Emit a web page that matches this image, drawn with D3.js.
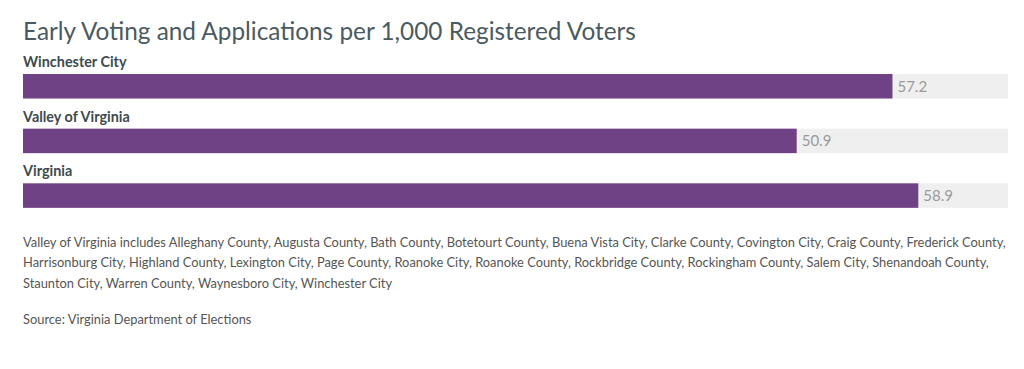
<!DOCTYPE html>
<html>
<head>
<meta charset="utf-8">
<script src="https://cdn.jsdelivr.net/npm/d3@7"></script>
<style>
  html, body { margin: 0; padding: 0; background: #fff; }
  svg { display: block; }
  text { font-family: Lato, "Open Sans", sans-serif; }
</style>
</head>
<body>
<svg id="chart" width="1024" height="369"></svg>
<script>
const title = "Early Voting and Applications per 1,000 Registered Voters";
const categories = ["Winchester City", "Valley of Virginia", "Virginia"];
const values = [57.2, 50.9, 58.9];
const valueLabels = ["57.2", "50.9", "58.9"];
const noteLines = [
  "Valley of Virginia includes Alleghany County, Augusta County, Bath County, Botetourt County, Buena Vista City, Clarke County, Covington City, Craig County, Frederick County,",
  "Harrisonburg City, Highland County, Lexington City, Page County, Roanoke City, Roanoke County, Rockbridge County, Rockingham County, Salem City, Shenandoah County,",
  "Staunton City, Warren County, Waynesboro City, Winchester City"
];
const source = "Source: Virginia Department of Elections";

const svg = d3.select("#chart");
const left = 23, right = 1008;

svg.append("text")
  .attr("x", left).attr("y", 40)
  .attr("font-size", 24.35).attr("fill", "#4b5a60")
  .text(title);

const x = d3.scaleLinear().domain([0, 64.8]).range([left, right]);
const y = d3.scaleBand().domain(categories).range([56, 220]).paddingInner(0).paddingOuter(0);

const rows = svg.append("g").selectAll("g").data(categories).join("g")
  .attr("transform", d => `translate(0,${y(d)})`);

rows.append("text")
  .attr("x", left).attr("y", 11)
  .attr("font-size", 14.4).attr("font-weight", 700).attr("fill", "#3d4a4f")
  .text(d => d);

rows.append("rect")
  .attr("x", x(0)).attr("y", 18)
  .attr("width", x(64.8) - x(0)).attr("height", 24.5)
  .attr("fill", "#efefef");

rows.append("rect")
  .attr("x", x(0)).attr("y", 18)
  .attr("width", (d, i) => x(values[i]) - x(0)).attr("height", 24.5)
  .attr("fill", "#6f4285");

rows.append("text")
  .attr("x", (d, i) => x(values[i]) + 5).attr("y", 35.5)
  .attr("font-size", 15).attr("fill", "#9a9a9a")
  .text((d, i) => valueLabels[i]);

svg.append("g").selectAll("text").data(noteLines).join("text")
  .attr("x", left).attr("y", (d, i) => 247 + i * 20.3)
  .attr("font-size", 12.87).attr("fill", "#555")
  .text(d => d);

svg.append("text")
  .attr("x", left).attr("y", 324)
  .attr("font-size", 12.87).attr("fill", "#555")
  .text(source);
</script>
</body>
</html>
